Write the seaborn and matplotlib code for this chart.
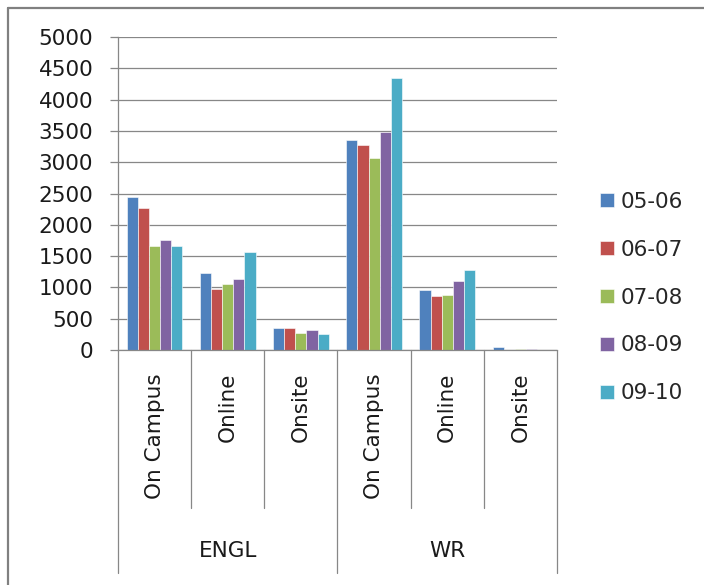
import matplotlib
matplotlib.use("Agg")
import matplotlib.pyplot as plt
import matplotlib.transforms as mtransforms
from matplotlib.lines import Line2D
import seaborn as sns
import pandas as pd

# ---- data ----
groups = ["ENGL", "ENGL", "ENGL", "WR", "WR", "WR"]
modes = ["On Campus", "Online", "Onsite", "On Campus", "Online", "Onsite"]
years = ["05-06", "06-07", "07-08", "08-09", "09-10"]
y0506 = [2450, 1223, 358, 3355, 963, 42]
y0607 = [2270, 972, 358, 3275, 867, 0]
y0708 = [1655, 1057, 272, 3066, 883, 20]
y0809 = [1757, 1142, 315, 3477, 1108, 20]
y0910 = [1655, 1570, 256, 4339, 1278, 0]
yticks = [0, 500, 1000, 1500, 2000, 2500, 3000, 3500, 4000, 4500, 5000]
colors = ["#4F81BD", "#C0504D", "#9BBB59", "#8064A2", "#4BACC6"]

series = [y0506, y0607, y0708, y0809, y0910]
cats = [f"{g} {m}" for g, m in zip(groups, modes)]
rows = []
for yr, vals in zip(years, series):
    for c, v in zip(cats, vals):
        rows.append({"cat": c, "year": yr, "value": v})
df = pd.DataFrame(rows)

sns.set_style("white")
plt.rcParams["font.family"] = ["DejaVu Sans"]
FS = 15.5
GRAY = "#878787"

fig = plt.figure(figsize=(7.04, 5.85), dpi=100)
ax = fig.add_axes([118 / 704, 1 - 350 / 585, (557 - 118) / 704, (350 - 37) / 585])

sns.barplot(data=df, x="cat", y="value", hue="year", order=cats,
            hue_order=years, palette=colors, width=0.76, ax=ax,
            saturation=1, errorbar=None, edgecolor="white", linewidth=0.4)

ax.set_ylim(0, 5000)
ax.set_xlim(-0.5, 5.5)
ax.set_yticks(yticks)
ax.set_yticklabels([str(t) for t in yticks], fontsize=FS, color="#1a1a1a")
ax.yaxis.grid(True, color=GRAY, linewidth=0.9)
ax.set_axisbelow(True)
ax.tick_params(axis="y", length=5.8, width=0.9, color=GRAY, pad=12, direction="out", left=True)
ax.set_xticks(range(len(cats)))
ax.set_xticklabels(modes, rotation=90, fontsize=FS, color="#1a1a1a", va="top", ha="center")
ax.tick_params(axis="x", length=0, pad=16.5)
ax.set_xlabel("")
ax.set_ylabel("")
for s in ["top", "right"]:
    ax.spines[s].set_visible(False)
for s in ["left", "bottom"]:
    ax.spines[s].set_color(GRAY)
    ax.spines[s].set_linewidth(0.9)

trans = mtransforms.blended_transform_factory(ax.transData, ax.transAxes)
ax_h = 313.0
for i in range(len(cats) + 1):
    xpos = i - 0.5
    major = i in (0, 3, 6)
    ybot = -(573 - 350) / ax_h if major else -(508 - 350) / ax_h
    ax.add_line(Line2D([xpos, xpos], [0, ybot], transform=trans, color=GRAY,
                       linewidth=0.9, clip_on=False))

for gname, center in [("ENGL", 1), ("WR", 4)]:
    ax.text(center, -(551 - 350) / ax_h, gname, transform=trans, ha="center",
            va="center", fontsize=FS, color="#1a1a1a")

handles, labels = ax.get_legend_handles_labels()
if ax.get_legend() is not None:
    ax.get_legend().remove()
fig.legend(handles, labels, loc="center left",
           bbox_to_anchor=(600 / 704, 1 - 297.5 / 585), frameon=False,
           fontsize=FS, handlelength=0.65, handleheight=0.65,
           handletextpad=0.33, labelspacing=1.30, borderpad=0, borderaxespad=0)

# outer chart border (only left and top visible)
fig.add_artist(Line2D([8 / 704, 8 / 704], [0, 1 - 8 / 585], transform=fig.transFigure,
                      color="#808080", linewidth=1.6))
fig.add_artist(Line2D([8 / 704, 1], [1 - 8 / 585, 1 - 8 / 585], transform=fig.transFigure,
                      color="#808080", linewidth=1.6))

fig.savefig("out.png", dpi=100)
